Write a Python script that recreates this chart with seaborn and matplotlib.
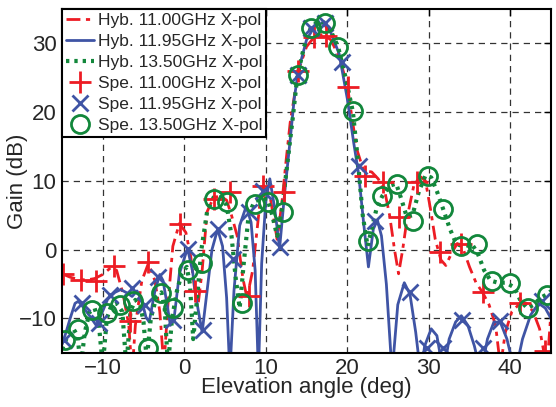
import numpy as np
import pandas as pd
import matplotlib
matplotlib.use("Agg")
import matplotlib.pyplot as plt
import seaborn as sns

sns.set_style("white")
plt.rcParams['font.family'] = ['Liberation Sans', 'DejaVu Sans']

RED = "#ED1C24"
BLUE = "#3F54A5"
GREEN = "#12873B"

# Hybrid (simulated) patterns
hyb_1100_x = [-15, -14, -13, -12, -11, -10, -9, -8.3, -7.5, -6.8, -6.4, -6, -5.2, -4.4, -3.6, -3, -2.5, -2,
              -1.4, -0.6, 0.2, 0.8, 1.3, 1.7, 2.2, 2.8, 3.6, 4.4, 5.2, 5.8, 6.5, 7.2, 7.7, 8.4, 9.3, 9.8,
              10.5, 11.4, 12, 12.5, 13, 14, 15, 16, 17, 18, 19, 20, 20.6, 21.2, 22, 23, 23.8, 24.6, 25.2,
              25.8, 26.3, 26.8, 27.4, 28.2, 29, 29.6, 30.2, 30.8, 31.5, 32.1, 32.8, 33.5, 34.2, 35, 35.8,
              36.6, 37.4, 38.2, 38.8, 39.4, 40.2, 41.2, 42, 42.8, 43.6, 44.3, 44.7, 45]
hyb_1100_y = [-3.5, -4.0, -4.3, -4.4, -4.2, -3.6, -2.6, -3.0, -6.5, -11, -18, -11, -4.5, -2.0, -4.5, -9, -17, -8,
              0.5, 3.8, 2.5, -1, -6, -8, -3, 5.5, 7.6, 7.8, 7.2, 5, 2, -4.2, -7, -3, 6.9, 9.3,
              8, 1.5, 7, 13, 18.5, 26, 29.5, 31, 31.3, 30.5, 28, 24, 19, 14.5, 11.5, 11.3, 10.3, 8.5, 5,
              0, -3.5, 0, 5, 9.5, 10.6, 10, 6, 1.5, -1.5, -2.3, -0.5, 0.9, 0.2, -2.5, -4.8,
              -6.2, -8, -11, -17, -12, -9, -7.8, -7.8, -9, -11.5, -16, -14, -9]

hyb_1195_x = [-15, -14.5, -14, -13.4, -13, -12.5, -11.5, -10.8, -10.2, -9.4, -8.5, -7.8, -7, -6.4, -5.8, -5.3,
              -4.7, -4.3, -3.6, -3.0, -2.6, -2.1, -1.7, -1.2, -0.6, 0.4, 1.0, 1.6, 2.2, 2.8, 3.4, 4.1, 4.7,
              5.2, 5.6, 6.1, 6.8, 7.6, 8.2, 8.7, 9.1, 9.5, 10.0, 10.5, 11.1, 11.7, 12.3, 13, 13.5, 14, 15, 16,
              17, 18, 19, 20, 20.8, 21.4, 22, 22.6, 23.2, 23.7, 24.2, 24.8, 25.5, 26.2, 27, 27.7, 28.4, 29,
              29.5, 30.3, 31, 31.8, 32.5, 33.3, 34, 34.8, 35.6, 36.4, 37.2, 38, 38.8, 39.6, 40.6, 41.5,
              42.5, 43.5, 44.3, 45]
hyb_1195_y = [-13.8, -12, -10, -7.8, -7.5, -8.2, -9.8, -11, -9.5, -7.2, -6.2, -5.8, -6.3, -6.8, -6, -7,
              -9.8, -10.5, -6, -3.6, -4.5, -8, -11, -9.5, -3.5, 0.2, -3, -8, -12, -6, 0, 3.0, 0.5,
              -7, -18, -6, 3.5, 6.3, 4, -3, -18, -2, 7, 10.3, 6, 0.2, 8, 16, 22, 26, 30.5, 32.5,
              33, 31.5, 28.5, 22, 15.5, 11, 4, -2.5, 3, 4.3, 2, -5, -18, -8, -4.8, -6.5, -12, -18,
              -14, -11.5, -12.5, -18, -13, -10.5, -9.6, -11, -14, -18, -13, -10.5, -10.6, -13, -18, -13,
              -9.5, -7.8, -8.5, -10]

hyb_1350_x = [-15, -14.3, -13.6, -13.1, -12.7, -12.2, -11.6, -11, -10.5, -10, -9.5, -9, -8.3, -7.6, -7.1, -6.6,
              -6, -5.4, -5, -4.6, -4.1, -3.4, -2.8, -2.4, -2, -1.5, -0.9, -0.3, 0.3, 0.7, 1.1, 1.5, 2.1,
              2.8, 3.6, 4.4, 5.2, 5.8, 6.3, 6.8, 7.3, 7.9, 8.6, 9.4, 10.2, 10.8, 11.4, 12, 12.6, 13.3, 13.9,
              14.7, 15.5, 16.4, 17.3, 18.1, 18.9, 19.8, 20.7, 21.3, 21.9, 22.5, 23.0, 23.6, 24.3, 25.2, 26,
              26.6, 27.3, 28, 28.8, 29.6, 30.3, 31, 31.8, 32.6, 33.4, 34.4, 35.3, 36, 36.8, 37.6, 38.5,
              39.5, 40.5, 41.3, 42.1, 42.9, 43.7, 44.5, 45]
hyb_1350_y = [-14.5, -12.5, -11.5, -12.5, -17, -12, -9, -8.5, -10.5, -17, -10, -8.3, -7.8, -9, -17, -9,
              -7.3, -8, -10.5, -16, -10, -6.8, -6.2, -8.5, -17, -10, -6, -3.5, -2.5, -5, -13, -8, 0,
              5.5, 7.6, 7.6, 6.5, 2, -4, -8.5, -2, 5, 7, 7.4, 7.4, 5, 2, 6, 12, 19, 25.4,
              29.5, 32.2, 33.2, 33, 31.5, 29.4, 25, 20, 13, 5, 0.5, 3, 6, 7.8, 9.3, 9.6,
              7.5, 4.8, 5, 8.5, 10.8, 10.5, 8.5, 5.8, 3, 0.8, 0.5, 0.8, -0.5, -3, -4.5, -4.8,
              -4.8, -5.5, -7.5, -8.5, -8, -7, -6.5, -6]

# Measured points
spe_1100_x = [-14.9, -12.7, -10.8, -8.6, -6.7, -4.5, -0.5, 1.3, 3.6, 5.6, 7.9, 9.7, 12.2, 14.0, 15.9,
              17.4, 20.1, 22.2, 24.4, 26.3, 28.6, 31.4, 33.9, 36.6, 41.2, 44.3]
spe_1100_y = [-3.6, -4.4, -4.5, -2.3, -10.4, -1.8, 3.7, -6.0, 7.3, 8.4, -6.8, 9.3, 8.4, 26.0, 30.9,
              31.0, 23.7, 10.7, 9.8, 4.7, 9.9, -0.3, 0.9, -6.1, -7.8, -14.7]

spe_1195_x = [-14.8, -12.5, -10.5, -9.1, -6.4, -4.8, -3.2, -1.4, 0.5, 2.3, 4.2, 6.0, 7.9, 9.7, 11.8,
              13.9, 15.5, 17.3, 19.4, 21.4, 23.4, 27.7, 29.8, 31.8, 34.1, 36.6, 38.8, 43.9]
spe_1195_y = [-13.1, -7.8, -10.7, -6.6, -5.6, -8.1, -3.9, -10.2, 0.1, -11.7, 3.0, -1.3, 5.5, 8.5, 0.4,
              25.4, 32.2, 32.9, 27.3, 12.1, 4.2, -6.1, -14.3, -14.3, -10.2, -14.3, -10.4, -7.5]

spe_1350_x = [-14.6, -13.0, -11.3, -9.5, -7.9, -6.3, -4.5, -2.9, -1.4, 0.4, 2.2, 3.6, 5.3, 7.1, 8.7,
              10.3, 12.1, 13.9, 15.5, 17.3, 18.9, 20.7, 22.6, 24.3, 26.1, 28.1, 29.9, 31.8, 33.9, 35.9,
              37.8, 40.0, 42.2, 44.5]
spe_1350_y = [-13.1, -11.6, -8.8, -9.2, -8.1, -7.5, -14.3, -6.3, -8.5, -3.0, -2.0, 7.4, 6.9, -7.8, 6.6,
              6.9, 5.5, 25.4, 32.2, 33.0, 29.4, 20.1, 1.2, 7.8, 9.5, 4.2, 10.7, 5.9, 0.6, 0.9,
              -4.5, -4.9, -8.5, -6.6]

fig, ax = plt.subplots(figsize=(5.56, 4.07), dpi=100)
fig.subplots_adjust(left=0.1115, right=0.991, bottom=0.133, top=0.978)

sns.lineplot(x=hyb_1100_x, y=hyb_1100_y, ax=ax, color=RED, lw=2, linestyle=(0, (5, 2, 1.5, 2)),
             label="Hyb. 11.00GHz X-pol", errorbar=None, sort=False)
sns.lineplot(x=hyb_1195_x, y=hyb_1195_y, ax=ax, color=BLUE, lw=2, linestyle="-",
             label="Hyb. 11.95GHz X-pol", errorbar=None, sort=False)
sns.lineplot(x=hyb_1350_x, y=hyb_1350_y, ax=ax, color=GREEN, lw=3, linestyle=(0, (0.8, 1.2)),
             label="Hyb. 13.50GHz X-pol", errorbar=None, sort=False)
sns.lineplot(x=spe_1100_x, y=spe_1100_y, ax=ax, color=RED, linestyle="none", marker="+",
             markersize=16, markeredgewidth=2, markeredgecolor=RED,
             label="Spe. 11.00GHz X-pol", errorbar=None, sort=False)
sns.lineplot(x=spe_1195_x, y=spe_1195_y, ax=ax, color=BLUE, linestyle="none", marker="x",
             markersize=11, markeredgewidth=2, markeredgecolor=BLUE,
             label="Spe. 11.95GHz X-pol", errorbar=None, sort=False)
sns.lineplot(x=spe_1350_x, y=spe_1350_y, ax=ax, color=GREEN, linestyle="none", marker="o",
             markersize=13, markeredgewidth=2, markerfacecolor="none", markeredgecolor=GREEN,
             label="Spe. 13.50GHz X-pol", errorbar=None, sort=False)

ax.set_xlim(-15, 45)
ax.set_ylim(-15, 35)
ax.set_xticks([-10, 0, 10, 20, 30, 40])
ax.set_yticks([-10, 0, 10, 20, 30])
ax.grid(True, color="#333333", linestyle=(0, (5, 4)), linewidth=0.9)
ax.tick_params(direction="in", top=True, right=True, labelsize=16, length=5, width=1, color="black")
ax.tick_params(axis="y", pad=4)
for s in ax.spines.values():
    s.set_color("black")
    s.set_linewidth(1.5)
ax.set_xlabel("Elevation angle (deg)", fontsize=16, labelpad=-1)
ax.set_ylabel("Gain (dB)", fontsize=16)
ax.yaxis.set_label_coords(-0.07, 0.5)

leg = ax.legend(loc="upper left", borderaxespad=0, fontsize=12.5, fancybox=False, framealpha=1,
                edgecolor="black", labelspacing=0.33, handletextpad=0.2, borderpad=0.25,
                handlelength=1.6)
leg.get_frame().set_linewidth(1.5)

fig.savefig("out.png", dpi=100)
